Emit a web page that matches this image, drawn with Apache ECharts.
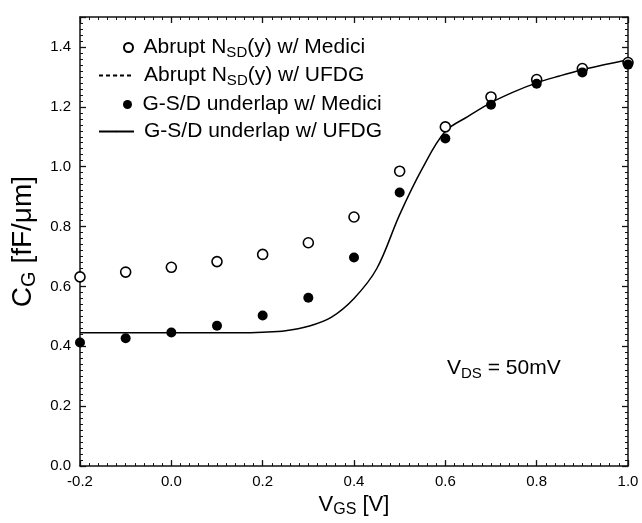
<!DOCTYPE html>
<html>
<head>
<meta charset="utf-8">
<script src="https://cdn.jsdelivr.net/npm/echarts@6/dist/echarts.min.js"></script>
<style>
html,body{margin:0;padding:0;background:#fff;}
#chart{width:642px;height:523px;}
</style>
</head>
<body>
<div id="chart"></div>
<script>
// gate voltage points of the Medici runs
var vgs = [-0.2, -0.1, 0.0, 0.1, 0.2, 0.3, 0.4, 0.5, 0.6, 0.7, 0.8, 0.9, 1.0];
var abruptMedici = [0.632, 0.648, 0.664, 0.683, 0.707, 0.746, 0.832, 0.985, 1.133, 1.233, 1.291, 1.328, 1.348];
var underlapMedici = [0.413, 0.427, 0.446, 0.469, 0.503, 0.562, 0.697, 0.914, 1.094, 1.207, 1.277, 1.315, 1.341];

// UFDG curve, every 0.05 V
var ufdgVgs = [-0.2, -0.15, -0.1, -0.05, 0.0, 0.05, 0.1, 0.15, 0.2, 0.25, 0.3, 0.35, 0.4, 0.45,
               0.5, 0.55, 0.6, 0.65, 0.7, 0.75, 0.8, 0.85, 0.9, 0.95, 1.0];
var underlapUfdg = [0.445, 0.445, 0.445, 0.445, 0.445, 0.445, 0.445, 0.445, 0.447, 0.452, 0.467, 0.497, 0.56, 0.66,
                    0.84, 0.995, 1.118, 1.168, 1.214, 1.25, 1.28, 1.303, 1.324, 1.341, 1.357];
var abruptUfdg = [];  // dashed curve lies under the solid one, only in legend

var xTicks = [-0.2, 0.0, 0.2, 0.4, 0.6, 0.8, 1.0];
var yTicks = [0.0, 0.2, 0.4, 0.6, 0.8, 1.0, 1.2, 1.4];

var font = 'Liberation Sans, Arial, sans-serif';
var ink = '#111';

var legendText = {
    abruptMedici: '{n|Abrupt N}{s|SD}{n|(y) w/ Medici}',
    abruptUfdg: '{n|Abrupt N}{s|SD}{n|(y) w/ UFDG}',
    underlapMedici: '{n|G-S/D underlap w/ Medici}',
    underlapUfdg: '{n|G-S/D underlap w/ UFDG}'
};
var richText = {
    n: {fontSize: 21, fontFamily: font, color: '#000'},
    s: {fontSize: 15, fontFamily: font, color: '#000', padding: [10, 0, 0, 0]}
};

function pairs(xs, ys) {
    return xs.map(function (x, i) { return [x, ys[i]]; });
}

function legendRow(name, left, top, w, h, pad) {
    return {
        data: [name],
        left: left,
        top: top,
        padding: 0,
        itemWidth: w,
        itemHeight: h,
        selectedMode: false,
        formatter: function (n) { return legendText[n]; },
        textStyle: {
            fontFamily: font,
            fontSize: 21,
            color: '#000',
            padding: [0, 0, 0, pad],
            rich: richText
        }
    };
}

// frame axis with inward ticks; each axis gets its own objects
function frameAxis(pos, min, max, extra) {
    var ax = {
        type: 'value',
        position: pos,
        min: min,
        max: max,
        interval: 0.2,
        axisLine: {show: true, onZero: false, lineStyle: {color: ink, width: 1.5}},
        axisTick: {show: true, inside: true, length: 6, lineStyle: {color: ink, width: 1.3}},
        minorTick: {show: true, splitNumber: 10, length: 3, lineStyle: {color: ink, width: 1}},
        splitLine: {show: false},
        axisLabel: {show: false}
    };
    return Object.assign(ax, extra || {});
}

var tickLabel = {
    show: true,
    margin: 9,
    fontSize: 15,
    fontFamily: font,
    color: '#000',
    formatter: function (v) { return v > 1.45 ? '' : v.toFixed(1); }
};

var myChart = echarts.init(document.getElementById('chart'));
var option = {
    animation: false,
    title: {text: '', show: false},
    grid: {left: 80, right: 14, top: 17, bottom: 50},
    legend: [
        legendRow('abruptMedici', 123, 37, 20, 9, 0),
        legendRow('abruptUfdg', 98, 65, 35, 2, 5),
        legendRow('underlapMedici', 123, 94, 20, 9, 0),
        legendRow('underlapUfdg', 98, 121, 35, 2, 5)
    ],
    xAxis: [
        frameAxis('bottom', xTicks[0], xTicks[xTicks.length - 1], {
            name: '{n|V}{s|GS}{n| [V]}',
            nameLocation: 'middle',
            nameGap: 21,
            nameTextStyle: {
                rich: {
                    n: {fontSize: 22, fontFamily: font, color: '#000'},
                    s: {fontSize: 16, fontFamily: font, color: '#000', padding: [10, 0, 0, 0]}
                }
            },
            axisLabel: Object.assign({}, tickLabel, {margin: 8})
        }),
        frameAxis('top', xTicks[0], xTicks[xTicks.length - 1])
    ],
    yAxis: [
        frameAxis('left', yTicks[0], 1.5, {
            name: '{n|C}{s|G}{n| [fF/μm]}',
            nameLocation: 'middle',
            nameGap: 36,
            nameRotate: 90,
            nameTextStyle: {
                rich: {
                    n: {fontSize: 28, fontFamily: font, color: '#000'},
                    s: {fontSize: 20, fontFamily: font, color: '#000', padding: [12, 0, 0, 0]}
                }
            },
            axisLabel: Object.assign({}, tickLabel)
        }),
        frameAxis('right', yTicks[0], 1.5)
    ],
    graphic: [
        {
            type: 'text',
            left: 447,
            top: 358,
            style: {
                text: '{n|V}{s|DS}{n| = 50mV}',
                rich: {
                    n: {fontSize: 21, fontFamily: font, color: '#000'},
                    s: {fontSize: 15, fontFamily: font, color: '#000', padding: [10, 0, 0, 0]}
                }
            }
        }
    ],
    series: [
        {
            name: 'underlapUfdg',
            type: 'line',
            data: pairs(ufdgVgs, underlapUfdg),
            smooth: 0.35,
            symbol: 'none',
            lineStyle: {color: '#000', width: 1.5},
            itemStyle: {color: '#000'},
            z: 2
        },
        {
            name: 'abruptUfdg',
            type: 'line',
            data: abruptUfdg,
            symbol: 'none',
            lineStyle: {color: '#000', width: 1.2, type: [4, 3]},
            itemStyle: {color: '#000'},
            z: 2
        },
        {
            name: 'abruptMedici',
            type: 'scatter',
            data: pairs(vgs, abruptMedici),
            symbol: 'circle',
            symbolSize: 10,
            itemStyle: {color: '#fff', borderColor: '#000', borderWidth: 1.6, opacity: 1},
            z: 3
        },
        {
            name: 'underlapMedici',
            type: 'scatter',
            data: pairs(vgs, underlapMedici),
            symbol: 'circle',
            symbolSize: 10,
            itemStyle: {color: '#000', opacity: 1},
            z: 4
        }
    ]
};
myChart.setOption(option);
</script>
</body>
</html>
